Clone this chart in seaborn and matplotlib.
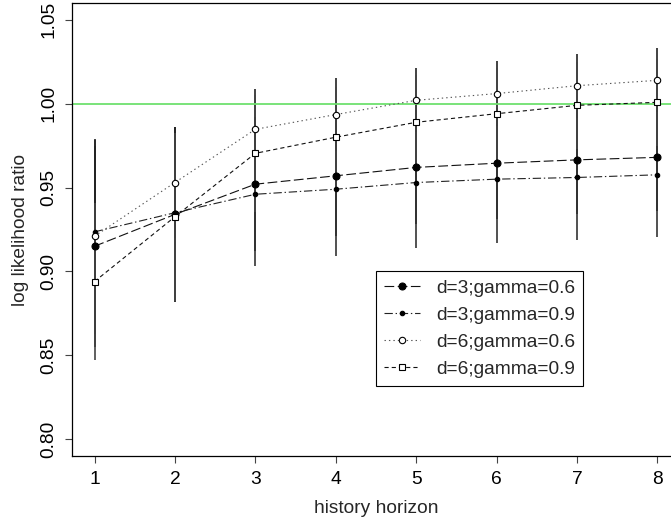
import matplotlib
matplotlib.use("Agg")
import matplotlib.pyplot as plt
import seaborn as sns
import numpy as np
import pandas as pd

# ---- data ----
horizon = [1, 2, 3, 4, 5, 6, 7, 8]
labels = ["d=3;gamma=0.6", "d=3;gamma=0.9", "d=6;gamma=0.6", "d=6;gamma=0.9"]
s1_mean = [0.915, 0.934, 0.952, 0.957, 0.962, 0.9645, 0.9665, 0.968]
s2_mean = [0.9236, 0.935, 0.946, 0.949, 0.953, 0.955, 0.956, 0.9576]
s3_mean = [0.921, 0.953, 0.9847, 0.9935, 1.002, 1.006, 1.0107, 1.0139]
s4_mean = [0.894, 0.9326, 0.9704, 0.980, 0.9889, 0.994, 0.999, 1.0008]
s1_err = [0.060, 0.052, 0.040, 0.036, 0.034, 0.033, 0.032, 0.032]
s2_err = [0.055, 0.050, 0.043, 0.040, 0.039, 0.038, 0.037, 0.037]
s3_err = [0.058, 0.033, 0.024, 0.022, 0.019, 0.0195, 0.019, 0.019]
s4_err = [0.047, 0.050, 0.035, 0.030, 0.028, 0.027, 0.026, 0.026]
ref_level = 1.0
yticks = [0.80, 0.85, 0.90, 0.95, 1.00, 1.05]
xticks = [1, 2, 3, 4, 5, 6, 7, 8]

means = [s1_mean, s2_mean, s3_mean, s4_mean]
errs = [s1_err, s2_err, s3_err, s4_err]

sns.set_style("ticks")
plt.rcParams["font.family"] = ["Liberation Sans", "DejaVu Sans"]
plt.rcParams["lines.scale_dashes"] = False

FS = 13.8
fig = plt.figure(figsize=(6.71, 5.23), dpi=100)
ax = fig.add_axes([0.1073, 0.1281, 0.906, 0.8662])

# error bars
bar_colors = ["#111111", "#333333", "#222222", "#444444"]
for m, e, c in zip(means, errs, bar_colors):
    m = np.asarray(m)
    e = np.asarray(e)
    ax.vlines(horizon, m - e, m + e, colors=c, linewidth=1.2, zorder=1)

ax.axhline(ref_level, color="#6ee06e", linewidth=1.3, zorder=1.5)

styles = [
    dict(marker="o", ms=5.0, mfc="black", mec="black", color="#111111", dashes=(7, 2.5)),
    dict(marker="o", ms=3.2, mfc="black", mec="black", color="#222222", dashes=(6, 2, 1, 2)),
    dict(marker="o", ms=4.6, mfc="white", mec="black", color="#555555", dashes=(1, 2.2)),
    dict(marker="s", ms=4.2, mfc="white", mec="black", color="#111111", dashes=(3, 2.2)),
]

for lab, m, st in zip(labels, means, styles):
    df = pd.DataFrame({"horizon": horizon, "value": m})
    sns.lineplot(data=df, x="horizon", y="value", ax=ax, label=lab,
                 color=st["color"], linewidth=0.8, marker=st["marker"],
                 markersize=st["ms"], markerfacecolor=st["mfc"],
                 markeredgecolor=st["mec"], markeredgewidth=0.8,
                 zorder=3)

for line, st in zip(ax.get_lines()[-4:], styles):
    line.set_dashes(st["dashes"])

ax.set_xlim(0.72, 8.28)
ax.set_ylim(0.79, 1.06)
ax.set_xticks(xticks)
ax.set_xticklabels([str(x) for x in xticks])
ax.set_yticks(yticks)
ax.set_yticklabels([f"{y:.2f}" for y in yticks], rotation=90, va="center")
ax.tick_params(axis="both", direction="out", length=5, width=0.8, color="#444444",
               labelsize=FS, labelcolor="black", pad=5.5)
ax.set_xlabel("history horizon", fontsize=FS, labelpad=9)
ax.set_ylabel("log likelihood ratio", fontsize=FS, labelpad=8)
for sp in ax.spines.values():
    sp.set_color("black")
    sp.set_linewidth(0.9)
    sp.set_visible(True)

handles, labs = ax.get_legend_handles_labels()
for h, st in zip(handles, styles):
    h.set_dashes(st["dashes"])
leg = ax.legend(handles, labs, loc="upper left", bbox_to_anchor=(0.5, 0.408),
                borderaxespad=0, fontsize=FS, frameon=True, fancybox=False,
                edgecolor="black", framealpha=1, handlelength=1.9,
                handletextpad=0.8, labelspacing=0.5, borderpad=0.42)
leg.get_frame().set_linewidth(0.8)

fig.savefig("out.png", dpi=100)
